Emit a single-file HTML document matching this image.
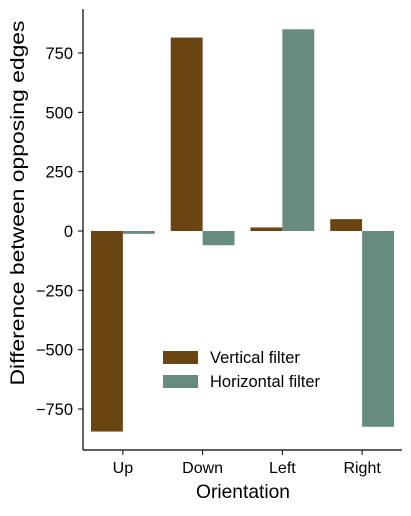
<!DOCTYPE html>
<html><head><meta charset="utf-8"><style>
body{margin:0;background:#fff;}
text{font-family:"Liberation Sans",Arial,sans-serif;}
</style></head><body>
<svg id="chart" width="411" height="511" xmlns="http://www.w3.org/2000/svg"></svg>
<script>
const categories=["Up","Down","Left","Right"];
const verticalValues=[-845,815,15,50];
const horizontalValues=[-12,-60,850,-825];
const yTicks=[-750,-500,-250,0,250,500,750];
const seriesNames=["Vertical filter","Horizontal filter"];
const colors=["#6b4511","#678c7e"];
const svg=document.getElementById('chart');
const NS="http://www.w3.org/2000/svg";
const L=83,R=402,T=9,B=450;
function y(v){return 231-v*(356/1500);}
function x(i){return L+(i+0.5)*((R-L)/4);}
const bw=(R-L)/4*0.4;
function mk(tag,attrs,name,parent){const e=document.createElementNS(NS,tag);for(const k in attrs)e.setAttribute(k,attrs[k]);


(parent||svg).appendChild(e);return e;}
[verticalValues,horizontalValues].forEach((vals,s)=>{
 vals.forEach((v,i)=>{
  const cx=x(i)+(s===0?-bw:0);
  mk('rect',{x:cx,y:Math.min(y(v),y(0)),width:bw,height:Math.abs(y(v)-y(0)),fill:colors[s]},'bar-'+categories[i].toLowerCase()+'-'+(s===0?'vertical':'horizontal'));
 });
});
mk('line',{x1:L,y1:T,x2:L,y2:B,stroke:'#000','stroke-width':1.2},'y-axis-line');
mk('line',{x1:L,y1:B,x2:R,y2:B,stroke:'#000','stroke-width':1.2},'x-axis-line');
yTicks.forEach(t=>{
 mk('line',{x1:L-5,y1:y(t),x2:L,y2:y(t),stroke:'#000','stroke-width':1},'y-tick');
 const tx=mk('text',{x:L-10,y:y(t)+6,'text-anchor':'end','font-size':16.5},'y-tick-label');
 tx.textContent=String(t).replace('-','\u2212');
});
categories.forEach((c,i)=>{
 mk('line',{x1:x(i),y1:B,x2:x(i),y2:B+5,stroke:'#000','stroke-width':1},'x-tick');
 const tx=mk('text',{x:x(i),y:B+23,'text-anchor':'middle','font-size':16},'x-tick-label');
 tx.textContent=c;
});
const xt=mk('text',{x:243,y:498,'text-anchor':'middle','font-size':19.5,textLength:94,lengthAdjust:'spacingAndGlyphs'},'x-axis-title');xt.textContent='Orientation';
const yt=mk('text',{x:0,y:0,'text-anchor':'middle','font-size':19,textLength:365,lengthAdjust:'spacingAndGlyphs',transform:'translate(24,203) rotate(-90)'},'y-axis-title');yt.textContent='Difference between opposing edges';
seriesNames.forEach((n,s)=>{
 const g=mk('g',{},'legend-entry');
 mk('rect',{x:163,y:351+s*24,width:35,height:13,fill:colors[s]},'legend-swatch',g);
 const t=mk('text',{x:210,y:363+s*24,'font-size':16.5},'legend-label',g);t.textContent=n;
});
</script>
</body></html>
